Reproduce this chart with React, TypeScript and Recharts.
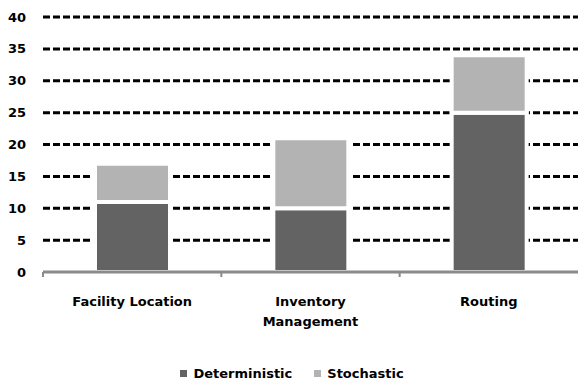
import { BarChart, Bar, XAxis, YAxis, CartesianGrid, Legend, Text } from "recharts";

const categories = ["Facility Location", "Inventory Management", "Routing"];
const deterministic = [11, 10, 25];
const stochastic = [6, 11, 9];
const yTicks = [0, 5, 10, 15, 20, 25, 30, 35, 40];
const Y_MAX = 40;

const data = categories.map((name, i) => ({
  name,
  Deterministic: deterministic[i],
  Stochastic: stochastic[i],
}));

const W = 584;
const H = 382;
const M = { top: 17, right: 6, left: 0, bottom: 0 };
const Y_W = 43;
const BAND = (W - M.left - M.right - Y_W) / categories.length;
const FONT = "'DejaVu Sans', sans-serif";
const DARK = "#636363";
const LIGHT = "#b3b3b3";
const AXIS = "#8a8a8a";

// dashed rows for every tick except zero, where the solid axis line sits
const gridRows = ({ offset }: any) =>
  yTicks.filter((t) => t > 0).map((t) => offset.top + offset.height * (1 - t / Y_MAX));

function CategoryTick(props: any) {
  const { x, y, payload } = props;
  return (
    <g>
      <line x1={x - BAND / 2} x2={x - BAND / 2} y1={y} y2={y + 5} stroke={AXIS} strokeWidth={2} />
      <Text
        x={x}
        y={y + 25}
        width={135}
        textAnchor="middle"
        verticalAnchor="start"
        lineHeight="1.55em"
        fontFamily={FONT}
        fontWeight="bold"
        fontSize={13}
        fill="#000"
      >
        {payload.value}
      </Text>
    </g>
  );
}

function LegendBox() {
  const items = [
    { label: "Deterministic", color: DARK },
    { label: "Stochastic", color: LIGHT },
  ];
  return (
    <div style={{ display: "flex", justifyContent: "center", gap: 22, fontFamily: FONT, fontWeight: "bold", fontSize: 13, color: "#000" }}>
      {items.map((it) => (
        <div key={it.label} style={{ display: "flex", alignItems: "center" }}>
          <span style={{ width: 7, height: 7, background: it.color, display: "inline-block", marginRight: 6 }} />
          {it.label}
        </div>
      ))}
    </div>
  );
}

export default function App() {
  return (
    <div style={{ position: "absolute", left: 0, top: 0, width: W, height: H, background: "#fff" }}>
      <BarChart width={W} height={H} data={data} margin={M} barSize={75}>
        <CartesianGrid
          horizontal
          vertical={false}
          stroke="#000"
          strokeWidth={3}
          strokeDasharray="7 3"
          horizontalCoordinatesGenerator={gridRows}
        />
        <XAxis
          dataKey="name"
          height={110}
          axisLine={{ stroke: AXIS, strokeWidth: 3 }}
          tickLine={false}
          tickSize={0}
          tickMargin={0}
          interval={0}
          tick={<CategoryTick />}
        />
        <YAxis
          width={Y_W}
          domain={[0, Y_MAX]}
          ticks={yTicks}
          axisLine={false}
          tickLine={false}
          tickSize={6}
          tickMargin={11}
          tick={{ fontFamily: FONT, fontWeight: "bold", fontSize: 13, fill: "#000" }}
        />
        <Bar dataKey="Deterministic" stackId="a" fill={DARK} stroke="#fff" strokeWidth={4} isAnimationActive={false} />
        <Bar dataKey="Stochastic" stackId="a" fill={LIGHT} stroke="#fff" strokeWidth={4} isAnimationActive={false} />
        <Legend
          verticalAlign="middle"
          align="center"
          layout="horizontal"
          content={<LegendBox />}
          wrapperStyle={{ top: 366, left: 0, width: W }}
        />
      </BarChart>
    </div>
  );
}
